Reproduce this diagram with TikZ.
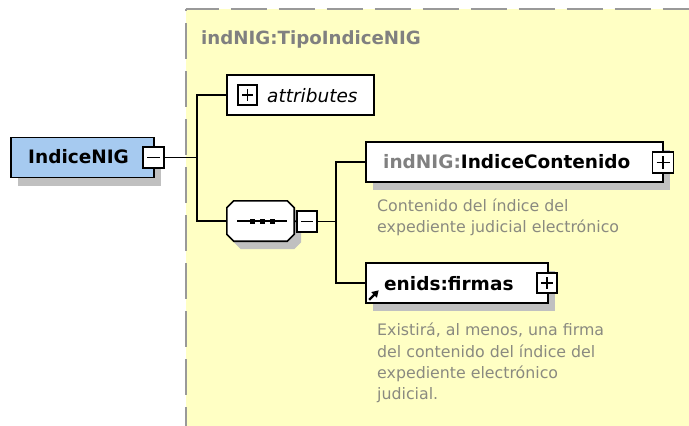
\documentclass[tikz,border=0pt]{standalone}
\usepackage{fontspec}
\setmainfont{DejaVu Sans}
\usetikzlibrary{shadows,arrows.meta}
\definecolor{bgyellow}{HTML}{FFFFC4}
\definecolor{nigblue}{HTML}{A6CAF0}
\definecolor{shadowgray}{HTML}{C0C0C0}
\definecolor{dashgray}{HTML}{999999}
\definecolor{prefixgray}{HTML}{808080}
\definecolor{descgray}{HTML}{8A8A80}
\newcommand\seqoct[1]{([shift={#1},xshift=7pt]seq.north west) -- ([shift={#1},xshift=-7pt]seq.north east) -- ([shift={#1},yshift=-7pt]seq.north east) -- ([shift={#1},yshift=7pt]seq.south east) -- ([shift={#1},xshift=-7pt]seq.south east) -- ([shift={#1},xshift=7pt]seq.south west) -- ([shift={#1},yshift=7pt]seq.south west) -- ([shift={#1},yshift=-7pt]seq.north west) -- cycle}
\begin{document}
\begin{tikzpicture}[x=1pt,y=-1pt,
  shadowed/.style={drop shadow={shadow xshift=7pt,shadow yshift=-8pt,opacity=1,fill=shadowgray}},
  elbox/.style={draw=black,line width=1.6pt,fill=white,minimum height=40pt,inner sep=0pt},
  pm/.style={draw=black,line width=1.2pt,fill=white,minimum width=20pt,minimum height=20pt,inner sep=0pt},
  minusbox/.style={pm,path picture={\draw[line width=1.3pt] ([xshift=4pt]path picture bounding box.west) -- ([xshift=-4pt]path picture bounding box.east);}},
  plusbox/.style={pm,path picture={\draw[line width=1.3pt] ([xshift=4pt]path picture bounding box.west) -- ([xshift=-4pt]path picture bounding box.east);
     \draw[line width=1.3pt] ([yshift=-4pt]path picture bounding box.north) -- ([yshift=4pt]path picture bounding box.south);}},
  conn/.style={line width=1.6pt,black},
  elname/.style={font=\fontsize{18.5}{22}\selectfont\bfseries,inner sep=0pt,anchor=base west},
  desc/.style={font=\fontsize{15.8}{21.3}\selectfont,text=descgray,align=left,inner sep=0pt,anchor=north west},
  dashedge/.style={dashgray,line width=2pt,dash pattern=on 36pt off 12pt}
]
\useasboundingbox (0,0) rectangle (689,426);
% complex type background
\fill[bgyellow] (185.5,9) rectangle (700,440);
\draw[dashedge,dash phase=34pt] (185.5,9) -- (185.5,440);
\draw[dashedge,dash phase=3pt] (185.5,9) -- (700,9);
\node[font=\fontsize{18.2}{22}\selectfont\bfseries,text=prefixgray,inner sep=0pt,anchor=base west] (title) at (201,44) {indNIG:TipoIndiceNIG};

% root element
\node[elbox,fill=nigblue,minimum width=143pt,shadowed] (nig) at (82.5,157.5) {};
\node[elname] (nigt) at (28,163.5) {IndiceNIG};
\node[minusbox,minimum width=21pt,minimum height=21pt] (nigm) at (153.5,157.5) {};

% attributes
\node[elbox,minimum width=147pt] (attr) at (300.5,95) {};
\node[plusbox,minimum width=19pt] (attrp) at (247.5,95) {};
\node[font=\fontsize{18.5}{22}\selectfont\itshape,inner sep=0pt,anchor=base west] (attrt) at (267,102.5) {attributes};

% sequence compositor
\node[rectangle,minimum width=67pt,minimum height=40pt,inner sep=0pt] (seq) at (260.5,221) {};
\fill[shadowgray] \seqoct{(7,8)};
\filldraw[fill=white,draw=black,line width=1.6pt] \seqoct{(0,0)};
\draw[line width=1.3pt] ([xshift=-23.5pt]seq.center) -- ([xshift=26.5pt]seq.center);
\fill ([shift={(-11,-2.5)}]seq.center) rectangle ([shift={(-6,2.5)}]seq.center);
\fill ([shift={(-1,-2.5)}]seq.center) rectangle ([shift={(4,2.5)}]seq.center);
\fill ([shift={(9,-2.5)}]seq.center) rectangle ([shift={(14,2.5)}]seq.center);
\node[minusbox,minimum height=21pt] (seqm) at (307,221.5) {};

% children
\node[elbox,minimum width=297pt,shadowed] (ic) at (514.5,162) {};
\node[elname] (ict) at (383,168) {\textcolor{prefixgray}{indNIG:}IndiceContenido};
\node[plusbox,minimum width=21pt,minimum height=21pt] (icp) at (663,162.5) {};
\node[desc] (icd) at (377,198.5) {Contenido del índice del\\expediente judicial electrónico};

\node[elbox,minimum width=182pt,shadowed] (fi) at (457,283) {};
\node[elname] (fit) at (384,290) {enids:firmas};
\node[plusbox] (fip) at (547,283) {};
\draw[-{Triangle[length=6.5pt,width=7.5pt]},line width=2.4pt] ([shift={(4,-4)}]fi.south west) -- ([shift={(13.5,-13.5)}]fi.south west);
\node[desc] (fid) at (377,323) {Existirá, al menos, una firma\\del contenido del índice del\\expediente electrónico\\judicial.};

% connectors
\coordinate (bus1) at (197,157.5);
\coordinate (bus2) at (336,221.5);
\draw[conn] (nigm.east) -- (bus1);
\draw[conn] (attr.west) -| (bus1) |- (seq.west);
\draw[conn] (seq.east) -- (seqm.west);
\draw[conn] (seqm.east) -- (bus2);
\draw[conn] (ic.west) -| (bus2) |- (fi.west);
\end{tikzpicture}
\end{document}
